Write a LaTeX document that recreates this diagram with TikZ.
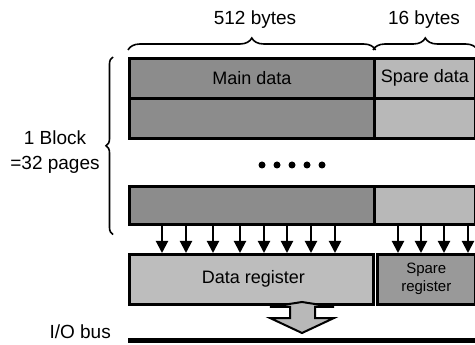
\documentclass[tikz,border=0pt]{standalone}
\usepackage{fontspec}
\setmainfont{Liberation Sans}
\usetikzlibrary{arrows.meta,decorations.pathreplacing,calc}
\definecolor{maingray}{gray}{0.55}
\definecolor{sparegray}{gray}{0.72}
\definecolor{dreggray}{gray}{0.74}
\definecolor{sreggray}{gray}{0.6}
\begin{document}
\begin{tikzpicture}[x=1pt,y=-1pt,
  cell/.style={draw=black,line width=2.6pt,anchor=north west,inner sep=0pt,
    font=\fontsize{18}{20}\selectfont},
  lbl/.style={font=\fontsize{19}{25}\selectfont,inner sep=0pt,align=center},
  xfer/.style={line width=2pt,-{Triangle[width=12pt,length=12pt]}},
  brc/.style={decorate,line width=1.6pt},
  dot/.style={circle,fill=black,inner sep=0pt,minimum size=7pt}]
\useasboundingbox (0,0) rectangle (475,345);
% pages
\node[cell,fill=maingray,minimum width=245pt,minimum height=40pt] (p1m) at (128,57) {Main data};
\node[cell,fill=sparegray,minimum width=101pt,minimum height=40pt] (p1s) at (373,57) {Spare data};
\node[cell,fill=maingray,minimum width=245pt,minimum height=40pt] (p2m) at (128,97) {};
\node[cell,fill=sparegray,minimum width=101pt,minimum height=40pt] (p2s) at (373,97) {};
\node[cell,fill=maingray,minimum width=245pt,minimum height=38pt] (pnm) at (128,185) {};
\node[cell,fill=sparegray,minimum width=101pt,minimum height=38pt] (pns) at (373,185) {};
% registers
\node[cell,fill=dreggray,minimum width=244pt,minimum height=50pt] (dreg) at (128,253) {\hspace*{4pt}Data register};
\node[cell,fill=sreggray,minimum width=98pt,minimum height=50pt,align=center,
  font=\fontsize{15}{18}\selectfont] (sreg) at (376,253) {Spare\\register};
% dots
\foreach \i/\x in {1/262,2/277,3/292,4/307,5/322}
  \node[dot] (d\i) at (\x,165) {};
% transfer arrows
\foreach \x in {162,186,213,240,264,287,311,335}
  \draw[xfer] (pnm.south west -| \x,0) -- (dreg.north west -| \x,0);
\foreach \x in {398,421,444,468}
  \draw[xfer] (pns.south west -| \x,0) -- (sreg.north west -| \x,0);
% bus
\coordinate (busL) at (128,340.5);
\coordinate (busR) at (475,340.5);
\draw[line width=5pt] (busL) -- (busR);
\node[lbl,anchor=east] (io) at (111,332) {I/O bus};
% big double arrow
\draw[line width=2pt,fill=sparegray,line join=miter]
  (290,307) -- (270,307) -- (302,302) -- (334,307) -- (315,307) -- (315,318)
  -- (334,318) -- (302,333) -- (270,318) -- (290,318) -- cycle;
% braces
\draw[brc,decoration={brace,amplitude=12pt}]
  ($(p1m.north west)+(0,-7)$) -- coordinate[pos=0.5] (b1) ($(p1m.north east)+(0,-7)$);
\draw[brc,decoration={brace,amplitude=12pt}]
  ($(p1s.north west)+(0,-7)$) -- coordinate[pos=0.5] (b2) ($(p1s.north east)+(1,-7)$);
\draw[brc,decoration={brace,amplitude=7pt}]
  ($(pnm.south west)+(-15,9)$) -- ($(p1m.north west)+(-15,0)$);
\node[lbl] (l512) at (255,20) {512 bytes};
\node[lbl] (l16) at (424,20) {16 bytes};
\node[lbl] (blk) at (55,152) {1 Block\\=32 pages};
\end{tikzpicture}
\end{document}
